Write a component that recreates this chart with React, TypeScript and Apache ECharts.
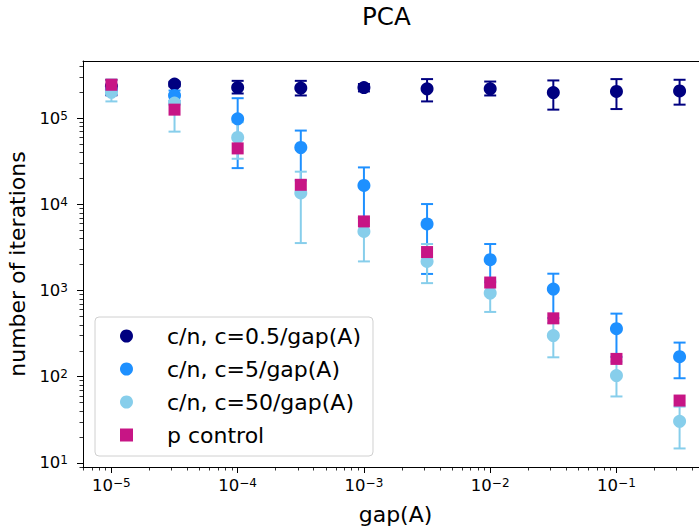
import React, { useEffect, useRef } from "react";
import * as echarts from "echarts";

// ---- data ----
const gaps = [1e-5, 3.162e-5, 1e-4, 3.162e-4, 1e-3, 3.162e-3, 1e-2, 3.162e-2, 1e-1, 3.162e-1];

const iterC05 = [2.35e5, 2.5e5, 2.27e5, 2.24e5, 2.27e5, 2.2e5, 2.2e5, 1.99e5, 2.05e5, 2.08e5];
const lowC05 = [1.85e5, 2.35e5, 1.94e5, 1.84e5, 2.05e5, 1.57e5, 1.84e5, 1.26e5, 1.28e5, 1.44e5];
const highC05 = [2.8e5, 2.65e5, 2.72e5, 2.72e5, 2.5e5, 2.85e5, 2.67e5, 2.75e5, 2.85e5, 2.8e5];

const iterC5 = [2.15e5, 1.84e5, 9.87e4, 4.58e4, 1.66e4, 5.93e3, 2.28e3, 1.04e3, 361, 171];
const lowC5 = [1.9e5, 1.6e5, 2.64e4, 1.9e4, 7.0e3, 1.56e3, 1.25e3, 480, 170, 96];
const highC5 = [2.4e5, 2.1e5, 1.71e5, 7.2e4, 2.69e4, 1.01e4, 3.47e3, 1.57e3, 540, 249];

const iterC50 = [2.0e5, 1.5e5, 6.0e4, 1.36e4, 4.86e3, 2.18e3, 937, 300, 103, 30.4];
const lowC50 = [1.57e5, 7.0e4, 3.39e4, 3.56e3, 2.18e3, 1.22e3, 565, 168, 59, 14.7];
const highC50 = [2.4e5, 1.9e5, 9.0e4, 2.4e4, 7.0e3, 3.47e3, 1.3e3, 420, 150, 45];

const iterP = [2.45e5, 1.26e5, 4.47e4, 1.69e4, 6.35e3, 2.8e3, 1.24e3, 476, 161, 52.9];

const xMajorTicks = [1e-5, 1e-4, 1e-3, 1e-2, 1e-1];
const yMajorTicks = [1e1, 1e2, 1e3, 1e4, 1e5];
const minorMultipliers = [2, 3, 4, 5, 6, 7, 8, 9];
const xDecades = [-6, -5, -4, -3, -2, -1];
const yDecades = [0, 1, 2, 3, 4, 5];

const seriesNames = ["c/n, c=0.5/gap(A)", "c/n, c=5/gap(A)", "c/n, c=50/gap(A)", "p control"];
const colors = ["#000080", "#1e90ff", "#87ceeb", "#c71585"];

// axis extents (log10 space)
const X_MIN = -5.225;
const X_MAX = -0.275;
const Y_MIN = 0.952;
const Y_MAX = 5.665;

const FONT = "'DejaVu Sans', sans-serif";
const lg = (v: number) => Math.log10(v);

const supLabel = (v: number) => {
  const e = Math.round(v);
  const s = e < 0 ? "\u2212" + String(-e) : String(e);
  return `{b|10}{s|${s}}`;
};

const tickRich = {
  b: { fontFamily: FONT, fontSize: 16.5, lineHeight: 17, padding: [3, 0, 0, 0], verticalAlign: "bottom", color: "#000" },
  s: { fontFamily: FONT, fontSize: 12, lineHeight: 12, verticalAlign: "top", color: "#000" },
};

function minorTicks(decades: number[]) {
  const out: number[] = [];
  decades.forEach((d) => minorMultipliers.forEach((m) => out.push(lg(m * Math.pow(10, d)))));
  return out;
}

function errSeries(name: string, low: number[], high: number[], color: string) {
  return {
    type: "custom",
    name,
    xAxisIndex: 0,
    yAxisIndex: 0,
    silent: true,
    encode: { x: 0, y: [1, 2] },
    data: gaps.map((g, i) => [lg(g), lg(low[i]), lg(high[i])]),
    renderItem: (_p: any, api: any) => {
      const x = api.value(0);
      const top = api.coord([x, api.value(2)]);
      const bot = api.coord([x, api.value(1)]);
      const hw = 6;
      const style = { stroke: color, lineWidth: 2, fill: null };
      return {
        type: "group",
        children: [
          { type: "line", shape: { x1: top[0], y1: top[1], x2: bot[0], y2: bot[1] }, style },
          { type: "line", shape: { x1: top[0] - hw, y1: top[1], x2: top[0] + hw, y2: top[1] }, style },
          { type: "line", shape: { x1: bot[0] - hw, y1: bot[1], x2: bot[0] + hw, y2: bot[1] }, style },
        ],
      };
    },
  };
}

function scatterSeries(name: string, vals: number[], color: string, symbol: string, size: number) {
  return {
    type: "scatter",
    name,
    xAxisIndex: 0,
    yAxisIndex: 0,
    symbol,
    symbolSize: size,
    itemStyle: { color, opacity: 1 },
    emphasis: { disabled: true },
    data: gaps.map((g, i) => [lg(g), lg(vals[i])]),
  };
}

export default function App() {
  const ref = useRef<HTMLDivElement>(null);
  useEffect(() => {
    if (!ref.current) return;
    const chart = echarts.init(ref.current, null, { renderer: "svg" });
    const axisLineStyle = { color: "#000", width: 1 };
    const baseX = {
      type: "value",
      gridIndex: 0,
      min: X_MIN,
      max: X_MAX,
      splitLine: { show: false },
    };
    const baseY = {
      type: "value",
      gridIndex: 0,
      min: Y_MIN,
      max: Y_MAX,
      splitLine: { show: false },
    };
    chart.setOption({
      animation: false,
      backgroundColor: "#ffffff",
      title: {
        text: "PCA",
        left: 362,
        top: 4,
        padding: 0,
        textStyle: { fontFamily: FONT, fontSize: 24.5, fontWeight: "normal", color: "#000" },
      },
      grid: { left: 83, top: 61, width: 625, height: 406, outerBoundsMode: "none", containLabel: false },
      legend: {
        orient: "vertical",
        left: 95,
        top: 317,
        padding: [7, 12, 9, 25],
        itemWidth: 13,
        itemHeight: 13,
        itemGap: 9,
        selectedMode: false,
        backgroundColor: "rgba(255,255,255,0.8)",
        borderColor: "#d0d0d0",
        borderWidth: 1,
        borderRadius: 4,
        textStyle: { fontFamily: FONT, fontSize: 22, color: "#000", lineHeight: 24, padding: [0, 0, 0, 29] },
        data: [
          { name: seriesNames[0], icon: "circle" },
          { name: seriesNames[1], icon: "circle" },
          { name: seriesNames[2], icon: "circle" },
          { name: seriesNames[3], icon: "rect" },
        ],
      },
      xAxis: [
        {
          ...baseX,
          position: "bottom",
          name: "gap(A)",
          nameLocation: "middle",
          nameGap: 36,
          nameTextStyle: { fontFamily: FONT, fontSize: 22, color: "#000" },
          axisLine: { show: true, onZero: false, lineStyle: axisLineStyle },
          axisTick: { show: true, length: 6, customValues: xMajorTicks.map(lg), lineStyle: { color: "#000", width: 1 } },
          axisLabel: { show: true, margin: 10, customValues: xMajorTicks.map(lg), formatter: supLabel, rich: tickRich },
        },
        {
          ...baseX,
          position: "bottom",
          axisLine: { show: false, onZero: false },
          axisTick: { show: true, length: 3.5, customValues: minorTicks(xDecades), lineStyle: { color: "#000", width: 0.8 } },
          axisLabel: { show: false },
        },
        {
          ...baseX,
          position: "top",
          axisLine: { show: true, onZero: false, lineStyle: axisLineStyle },
          axisTick: { show: false },
          axisLabel: { show: false },
        },
      ],
      yAxis: [
        {
          ...baseY,
          position: "left",
          name: "number of iterations",
          nameLocation: "middle",
          nameGap: 52,
          nameTextStyle: { fontFamily: FONT, fontSize: 22, color: "#000" },
          axisLine: { show: true, onZero: false, lineStyle: axisLineStyle },
          axisTick: { show: true, length: 6, customValues: yMajorTicks.map(lg), lineStyle: { color: "#000", width: 1 } },
          axisLabel: { show: true, margin: 15, customValues: yMajorTicks.map(lg), formatter: supLabel, rich: tickRich },
        },
        {
          ...baseY,
          position: "left",
          axisLine: { show: false, onZero: false },
          axisTick: { show: true, length: 3.5, customValues: minorTicks(yDecades), lineStyle: { color: "#000", width: 0.8 } },
          axisLabel: { show: false },
        },
        {
          ...baseY,
          position: "right",
          axisLine: { show: true, onZero: false, lineStyle: axisLineStyle },
          axisTick: { show: false },
          axisLabel: { show: false },
        },
      ],
      series: [
        errSeries("err05", lowC05, highC05, colors[0]),
        scatterSeries(seriesNames[0], iterC05, colors[0], "circle", 13),
        errSeries("err5", lowC5, highC5, colors[1]),
        scatterSeries(seriesNames[1], iterC5, colors[1], "circle", 13),
        errSeries("err50", lowC50, highC50, colors[2]),
        scatterSeries(seriesNames[2], iterC50, colors[2], "circle", 13),
        scatterSeries(seriesNames[3], iterP, colors[3], "rect", 12),
      ],
    });
    return () => chart.dispose();
  }, []);
  return (
    <div
      ref={ref}
      style={{ position: "absolute", left: 0, top: 0, width: 699, height: 529, background: "#fff" }}
    />
  );
}
